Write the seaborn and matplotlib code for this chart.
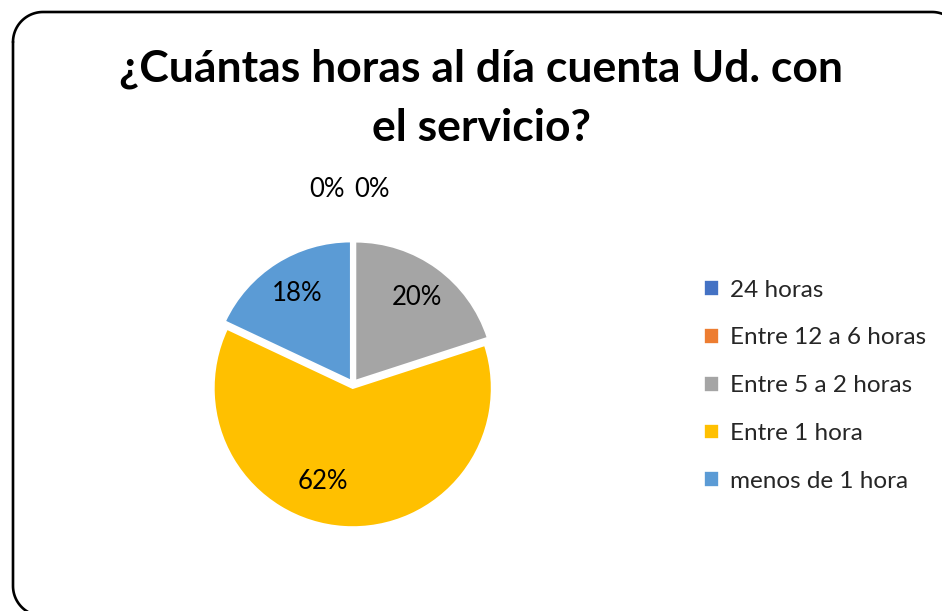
import matplotlib
matplotlib.use("Agg")
import matplotlib.pyplot as plt
import seaborn as sns
from matplotlib.lines import Line2D
import numpy as np

categories = ["24 horas", "Entre 12 a 6 horas", "Entre 5 a 2 horas", "Entre 1 hora", "menos de 1 hora"]
values = [0, 0, 20, 62, 18]
colors = ["#4472C4", "#ED7D31", "#A5A5A5", "#FFC000", "#5B9BD5"]
title = "¿Cuántas horas al día cuenta Ud. con\nel servicio?"

sns.set_theme(style="white")
plt.rcParams['font.family'] = ['Lato', 'DejaVu Sans']

W, H = 942, 611
fig = plt.figure(figsize=(W / 100, H / 100), dpi=100)
fig.patch.set_facecolor("white")

# rounded border built from line segments (in inches)
x0, x1, y0, y1, r = 0.13, 9.62, -0.05, 5.99, 0.3
def arc(cxp, cyp, a0, a1):
    t = np.linspace(np.radians(a0), np.radians(a1), 30)
    return list(cxp + r * np.cos(t)), list(cyp + r * np.sin(t))
xs, ys = [], []
for (cxp, cyp, a0, a1) in [(x0 + r, y1 - r, 180, 90), (x1 - r, y1 - r, 90, 0),
                           (x1 - r, y0 + r, 0, -90), (x0 + r, y0 + r, -90, -180)]:
    ax_, ay_ = arc(cxp, cyp, a0, a1)
    xs += ax_; ys += ay_
xs.append(xs[0]); ys.append(ys[0])
fig.add_artist(Line2D(xs, ys, transform=fig.dpi_scale_trans, color="black",
                      linewidth=1.9, solid_joinstyle="round", zorder=0))

cx, cy, side = 353, 384, 400
ax = fig.add_axes([(cx - side / 2) / W, (H - cy - side / 2) / H, side / W, side / H])
pal = sns.color_palette(colors)
wedges, texts, autotexts = ax.pie(values, colors=pal, startangle=90, counterclock=False,
                                  explode=[0.03] * len(values),
                                  autopct=lambda p: f"{p:.0f}%", pctdistance=0.77,
                                  wedgeprops=dict(edgecolor="white", linewidth=1.2),
                                  textprops=dict(fontsize=18.5, color="black"))
ax.set_xlim(-1.44, 1.44)
ax.set_ylim(-1.44, 1.44)
ax.set_aspect("equal")
ax.axis("off")

# place zero labels above the pie, side by side
zero_idx = [i for i, v in enumerate(values) if v == 0]
offsets = [-0.19, 0.14]
for k, i in enumerate(zero_idx):
    autotexts[i].set_position((offsets[k], 1.40))
# best-fit style label positions
autotexts[3].set_position((-0.22, -0.70))
autotexts[4].set_position((-0.40, 0.65))
autotexts[2].set_position((0.46, 0.62))

fig.text(481 / W, 1 - 98 / H, title, ha="center", va="center", fontsize=32,
         fontweight="bold", color="black", linespacing=1.58)

leg = fig.legend(wedges, categories, loc="upper left", bbox_to_anchor=(694 / W, 1 - 270 / H),
                 frameon=False, fontsize=17.5, handlelength=0.62, handleheight=0.62,
                 handletextpad=0.45, labelspacing=1.1, borderaxespad=0)

fig.savefig("out.png", dpi=100, facecolor="white")
